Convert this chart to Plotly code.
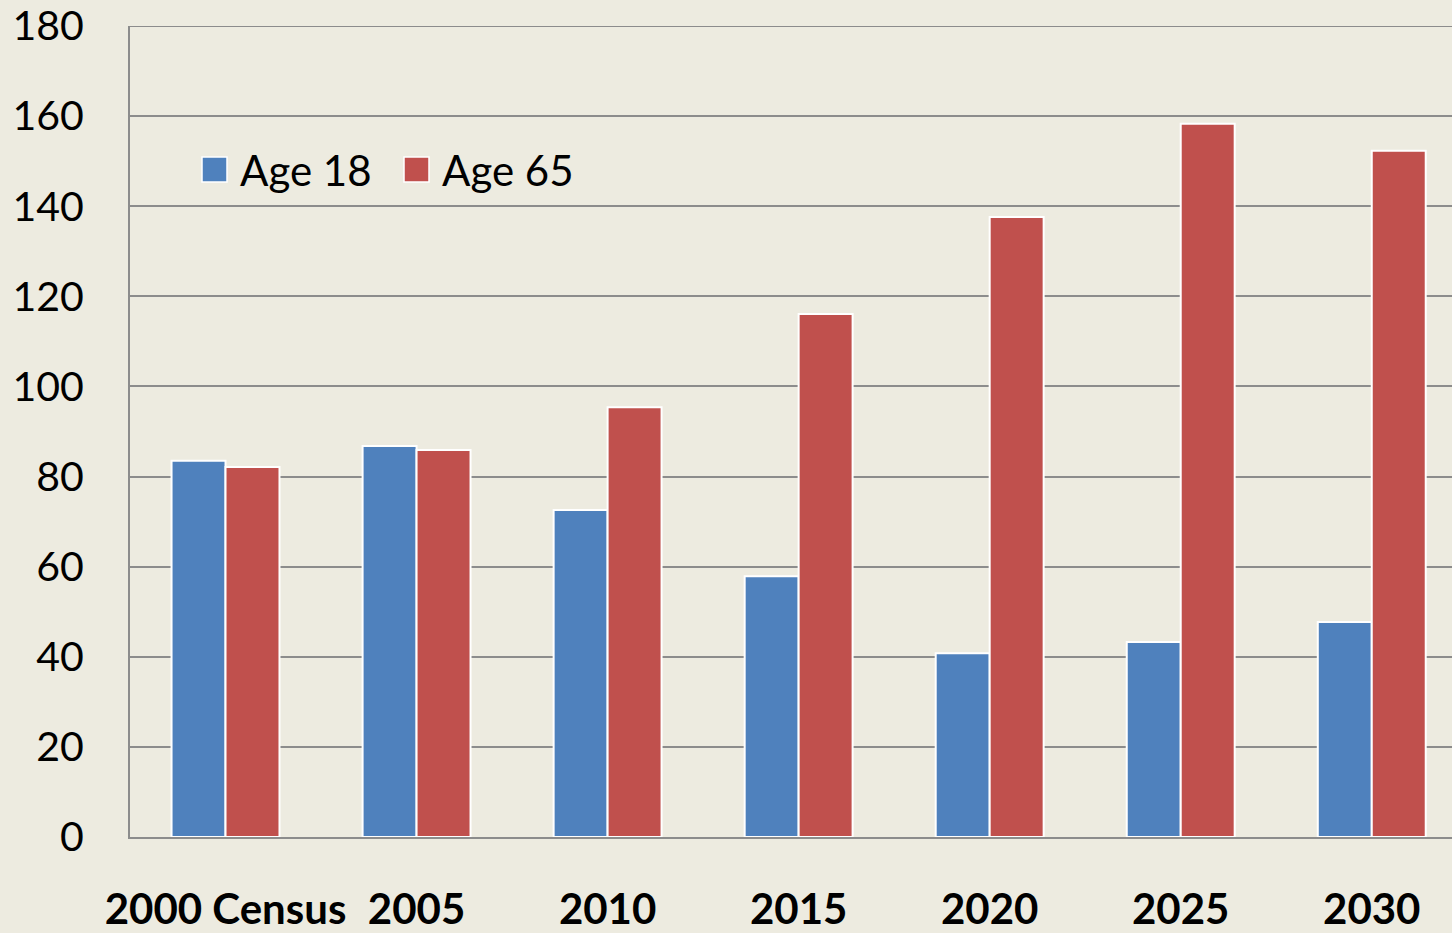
import plotly.graph_objects as go

categories = ["2000 Census", "2005", "2010", "2015", "2020", "2025", "2030"]
age_18 = [83.5, 86.8, 72.6, 57.9, 40.8, 43.3, 47.7]
age_65 = [82.1, 85.9, 95.4, 116.1, 137.6, 158.3, 152.3]
y_ticks = [0, 20, 40, 60, 80, 100, 120, 140, 160, 180]

bg = "#EDEBE0"
grid = "#8C8C8C"
blue = "#4F81BD"
red = "#C0504D"
font_family = "Lato, 'Open Sans', sans-serif"

fig = go.Figure()
fig.add_trace(go.Bar(
    x=categories, y=age_18, name="Age 18", showlegend=False,
    marker=dict(color=blue, line=dict(color="white", width=2)),
))
fig.add_trace(go.Bar(
    x=categories, y=age_65, name="Age 65", showlegend=False,
    marker=dict(color=red, line=dict(color="white", width=2)),
))

# top gridline at 180 (plotly skips it at the range edge)
fig.add_shape(type="line", xref="paper", yref="y", x0=0, x1=1, y0=180, y1=180,
              line=dict(color=grid, width=2), layer="below")

# legend drawn by hand so the swatches can be as large as the reference
legend_items = [("Age 18", blue, 202), ("Age 65", red, 404)]
for label, color, px_x in legend_items:
    x0 = (px_x - 130) / 1322
    x1 = (px_x + 25 - 130) / 1322
    fig.add_shape(type="rect", xref="paper", yref="paper",
                  x0=x0, x1=x1, y0=(837 - 182) / 811, y1=(837 - 157) / 811,
                  fillcolor=color, line=dict(color="white", width=1.5))
    fig.add_annotation(text=label, xref="paper", yref="paper",
                       x=(px_x + 36 - 130) / 1322, y=(837 - 170) / 811,
                       xanchor="left", yanchor="middle", showarrow=False,
                       font=dict(size=42, family=font_family, color="black"))

fig.update_layout(
    width=1452, height=933,
    paper_bgcolor=bg, plot_bgcolor=bg,
    margin=dict(l=130, r=0, t=26, b=96, autoexpand=False),
    barmode="group", bargap=0.435, bargroupgap=0,
    font=dict(family=font_family, color="black"),
    xaxis=dict(
        range=[-0.5, 6.42],
        automargin=False,
        showline=True, linecolor=grid, linewidth=2,
        tickfont=dict(size=42, family=font_family, weight="bold"),
        ticklabelstandoff=35,
        showgrid=False,
    ),
    yaxis=dict(
        range=[0, 180], tickvals=y_ticks,
        automargin=False,
        showline=True, linecolor=grid, linewidth=2,
        showgrid=True, gridcolor=grid, gridwidth=2,
        zeroline=False,
        tickfont=dict(size=41, family=font_family),
        ticklabelstandoff=36,
    ),
)

fig.write_html("out.html", config={"displayModeBar": False},
               post_script="document.body.style.margin='0';document.body.style.overflow='hidden';")
